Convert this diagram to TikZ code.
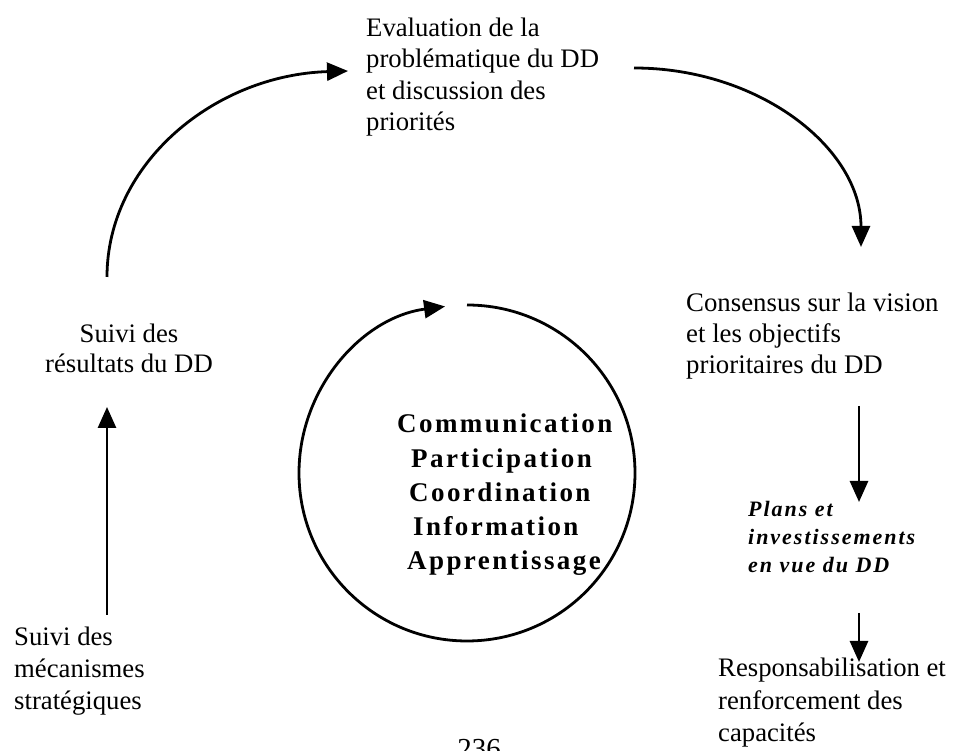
\documentclass[tikz,border=0pt]{standalone}
\usepackage{fontspec}
\setmainfont{Liberation Serif}
\newfontfamily\spacedbf[LetterSpace=9]{Liberation Serif}
\newfontfamily\spacedbi[LetterSpace=9]{Liberation Serif}
\usetikzlibrary{arrows.meta}
\begin{document}
\begin{tikzpicture}[x=1pt,y=1pt,
  txt/.style={inner sep=0pt,align=left,font=\fontsize{26.7}{31.5}\selectfont},
  link/.style={line width=2.8pt,-{Triangle[length=21pt,width=18pt]}}]
\useasboundingbox (0,0) rectangle (954,751);
% text blocks (anchor = baseline of the last line)
\node[txt,anchor=base west] (eval) at (366,620)
  {Evaluation de la\\probl\'ematique du DD\\et discussion des\\priorit\'es};
\node[txt,anchor=base west,font=\fontsize{26.8}{31}\selectfont] (cons) at (686,377)
  {Consensus sur la vision\\et les objectifs\\prioritaires du DD};
\node[txt,anchor=base west,font=\fontsize{22}{28}\selectfont\spacedbi\bfseries\itshape] (plans) at (748,178)
  {Plans et\\investissements\\en vue du DD};
\node[txt,anchor=base west,font=\fontsize{26.7}{32.5}\selectfont] (resp) at (718,9)
  {Responsabilisation et\\renforcement des\\capacit\'es};
\node[txt,anchor=base,align=center,font=\fontsize{26.7}{30.5}\selectfont] (res) at (129,378)
  {Suivi des\\r\'esultats du DD};
\node[txt,anchor=base west,font=\fontsize{26.7}{32}\selectfont] (meca) at (14,41)
  {Suivi des\\m\'ecanismes\\strat\'egiques};
\node[txt,anchor=base west,align=left,font=\fontsize{27}{34.3}\selectfont\spacedbf\bfseries] (core) at (397,181)
  {Communication\\\hspace*{14pt}Participation\\\hspace*{12pt}Coordination\\\hspace*{16pt}Information\\\hspace*{10pt}Apprentissage};
\node[inner sep=0pt,anchor=base,font=\fontsize{29}{34}\selectfont] (page) at (479,-8) {236};
% connector ends
\coordinate (l1) at (107,474);
\coordinate (l2) at (348,680);
\coordinate (r1) at (634,683);
\coordinate (r2) at (861,504);
\coordinate (v1) at (107,136);
\coordinate (v2) at (107,344);
\coordinate (a1) at (859,345);
\coordinate (a2) at (859,249);
\coordinate (b1) at (859,138);
\coordinate (b2) at (859,89);
% connectors
\draw[link] (l1) .. controls (107,588) and (215,676) .. (l2);
\draw[link] (r1) .. controls (759,683) and (861,603) .. (r2);
\draw[link] (v1) -- (v2);
\draw[link] (a1) -- (a2);
\draw[link] (b1) -- (b2);
% cycle circle
\coordinate (cc) at (467,278);
\draw[link] (cc) ++(90:168) arc[start angle=90,end angle=-262.5,radius=168];
\end{tikzpicture}
\end{document}
